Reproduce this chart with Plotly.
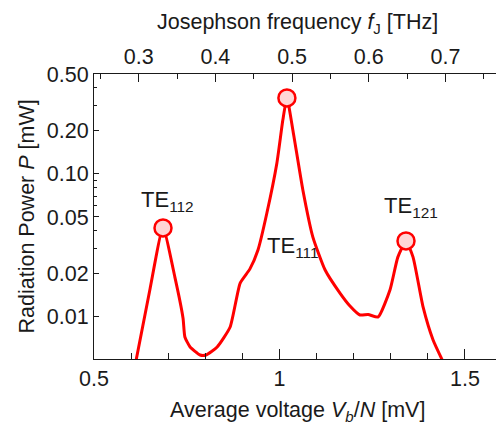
import plotly.graph_objects as go
import math

# ---- data ----
voltage_mV = [0.6105, 0.651, 0.686, 0.718, 0.740, 0.745, 0.759, 0.786, 0.802, 0.832,
              0.867, 0.894, 0.920, 0.942, 0.966, 0.993, 1.009, 1.020, 1.036, 1.063,
              1.090, 1.123, 1.163, 1.190, 1.217, 1.239, 1.266, 1.298, 1.319, 1.341,
              1.360, 1.387, 1.414, 1.449]
power_mW = [0.00454, 0.0157, 0.0419, 0.0190, 0.0098, 0.00724, 0.00617, 0.00542, 0.00542, 0.00617,
            0.00851, 0.01725, 0.0216, 0.0294, 0.0533, 0.1194, 0.238, 0.340, 0.203, 0.0773,
            0.0362, 0.0213, 0.0147, 0.01194, 0.01032, 0.0104, 0.0100, 0.0155, 0.0262, 0.0340,
            0.0262, 0.01175, 0.0069, 0.0044]

peak_v = [0.686, 1.020, 1.341]
peak_p = [0.0419, 0.340, 0.0340]
mode_labels = ["TE<sub>112</sub>", "TE<sub>111</sub>", "TE<sub>121</sub>"]

y_tickvals = [0.01, 0.02, 0.05, 0.10, 0.20, 0.50]
y_ticktext = ["0.01", "0.02", "0.05", "0.10", "0.20", "0.50"]
y_minor = [0.03, 0.04, 0.06, 0.07, 0.08, 0.09, 0.3, 0.4]
x_tickvals = [0.5, 1.0, 1.5]
x_ticktext = ["0.5", "1", "1.5"]
f_tickvals = [0.3, 0.4, 0.5, 0.6, 0.7]
f_ticktext = ["0.3", "0.4", "0.5", "0.6", "0.7"]

K_THz_per_mV = 0.4835978  # 2e/h

x_range = [0.5, 1.5836]
y_range = [math.log10(0.00508), math.log10(0.5)]

FONT = "Liberation Sans, Arial, sans-serif"
INK = "#1a1a1a"
RED = "#ff0000"

fig = go.Figure()
fig.add_trace(go.Scatter(x=voltage_mV, y=power_mW, mode="lines",
                         line=dict(color=RED, width=3, shape="spline", smoothing=0.5),
                         hoverinfo="skip", showlegend=False))
fig.add_trace(go.Scatter(x=peak_v, y=peak_p, mode="markers",
                         marker=dict(size=17, color="#ffd6d6", line=dict(color=RED, width=2.5)),
                         showlegend=False))
# invisible companion on the frequency axis so it is drawn
fig.add_trace(go.Scatter(x=[v * K_THz_per_mV for v in voltage_mV], y=power_mW,
                         xaxis="x2", mode="lines", line=dict(width=0), opacity=0,
                         hoverinfo="skip", showlegend=False))

label_pos = [(0.6968, -1.189), (1.0364, -1.511), (1.3544, -1.231)]
for txt, (lx, ly) in zip(mode_labels, label_pos):
    fig.add_annotation(x=lx, y=ly, xref="x", yref="y", text=txt, showarrow=False,
                       font=dict(family=FONT, size=22, color=INK),
                       xanchor="center", yanchor="middle")

# axis titles
title_font = dict(family=FONT, size=21.5, color=INK)
fig.add_annotation(x=0.505, y=-0.183, xref="paper", yref="paper", showarrow=False,
                   text="Average voltage <i>V<sub>b</sub></i>/<i>N</i> [mV]",
                   font=title_font, xanchor="center", yanchor="middle")
fig.add_annotation(x=0.505, y=1.178, xref="paper", yref="paper", showarrow=False,
                   text="Josephson frequency <i>f</i><sub>J</sub> [THz]",
                   font=title_font, xanchor="center", yanchor="middle")
fig.add_annotation(x=-0.1667, y=0.5, xref="paper", yref="paper", showarrow=False,
                   text="Radiation Power <i>P</i> [mW]", textangle=-90,
                   font=title_font, xanchor="center", yanchor="middle")

axis_common = dict(showline=True, linecolor=INK, linewidth=1, showgrid=False,
                   zeroline=False, ticks="inside", tickcolor=INK, tickwidth=1,
                   automargin=False,
                   tickfont=dict(family=FONT, size=21.5, color=INK))

fig.update_layout(
    width=496, height=423,
    margin=dict(l=94, r=0, t=74, b=64),
    paper_bgcolor="white", plot_bgcolor="white",
    xaxis=dict(range=x_range, tickvals=x_tickvals, ticktext=x_ticktext, ticklen=10,
               minor=dict(dtick=0.1, tick0=0.5, ticklen=6, ticks="inside", tickcolor=INK),
               **axis_common),
    xaxis2=dict(range=[x_range[0] * K_THz_per_mV, x_range[1] * K_THz_per_mV],
                overlaying="x", side="top", anchor="y",
                tickvals=f_tickvals, ticktext=f_ticktext, ticklen=8,
                minor=dict(dtick=0.05, tick0=0.25, ticklen=5, ticks="inside", tickcolor=INK),
                **axis_common),
    yaxis=dict(type="log", range=y_range, tickvals=y_tickvals, ticktext=y_ticktext, ticklen=5,
               minor=dict(tickvals=y_minor, ticklen=2.5, ticks="inside", tickcolor=INK),
               **axis_common),
)

fig.write_html("out.html", config={"displayModeBar": False},
               post_script="document.body.style.margin='0';document.body.style.padding='0';")
